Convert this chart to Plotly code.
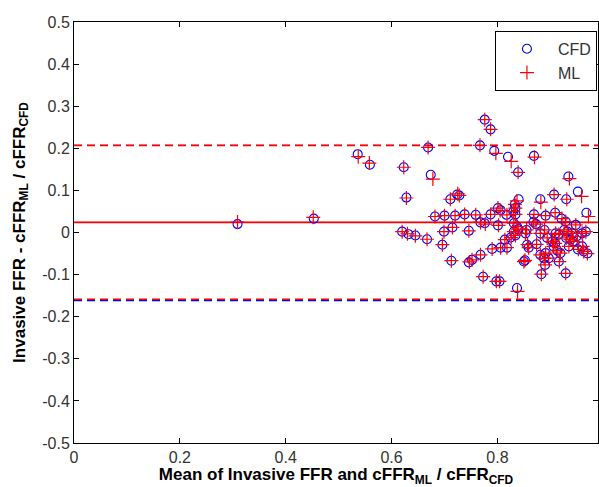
import plotly.graph_objects as go

# ---- data ----
cfd_x = [0.309, 0.453, 0.536, 0.559, 0.623, 0.628, 0.620, 0.632, 0.645, 0.667,
         0.669, 0.674, 0.682, 0.696, 0.699, 0.700, 0.711, 0.724, 0.728, 0.713,
         0.715, 0.720, 0.738, 0.746, 0.746, 0.752, 0.759, 0.768, 0.776, 0.768,
         0.773, 0.776, 0.787, 0.767, 0.794, 0.820, 0.869, 0.839, 0.934, 0.952,
         0.907, 0.930, 0.840, 0.881, 0.833, 0.801, 0.806, 0.834, 0.830, 0.834,
         0.787, 0.817, 0.869, 0.891, 0.909, 0.968, 0.801, 0.831, 0.837, 0.868,
         0.873, 0.921, 0.929, 0.948, 0.798, 0.804, 0.837, 0.790, 0.806, 0.818,
         0.814, 0.825, 0.831, 0.839, 0.834, 0.853, 0.850, 0.852, 0.856, 0.859,
         0.874, 0.881, 0.889, 0.881, 0.891, 0.888, 0.897, 0.890, 0.883, 0.916,
         0.929, 0.904, 0.906, 0.909, 0.894, 0.910, 0.916, 0.926, 0.932, 0.941,
         0.950, 0.960, 0.967, 0.930, 0.938, 0.943, 0.935, 0.960, 0.963, 0.919,
         0.913, 0.855, 0.952, 0.970]
cfd_y = [0.020, 0.033, 0.186, 0.161, 0.155, 0.083, 0.002, -0.004, -0.007, -0.016,
         0.202, 0.137, 0.038, -0.029, 0.002, 0.040, 0.079, 0.090, 0.088, -0.067,
         0.012, 0.040, 0.043, 0.004, -0.071, -0.065, 0.042, 0.024, 0.022, -0.053,
         -0.105, 0.268, 0.245, 0.207, 0.194, 0.180, 0.182, 0.143, 0.133, 0.097,
         0.090, 0.079, 0.079, 0.079, 0.067, 0.058, 0.053, 0.058, 0.050, 0.043,
         0.043, 0.042, 0.043, 0.040, 0.047, 0.047, 0.017, 0.022, 0.014, 0.025,
         0.020, 0.033, 0.026, 0.018, -0.116, -0.116, -0.132, -0.039, -0.036, -0.036,
         -0.017, -0.012, 0.002, 0.008, -0.007, -0.002, -0.069, -0.066, -0.029, -0.036,
         -0.028, -0.002, 0.006, -0.053, -0.049, -0.061, -0.061, -0.077, -0.099, -0.069,
         -0.097, -0.021, -0.033, -0.026, -0.013, -0.002, -0.005, 0.006, 0.002, -0.002,
         -0.009, -0.002, 0.002, -0.013, -0.017, -0.021, -0.033, -0.033, -0.045, -0.049,
         -0.043, 0.006, -0.040, -0.050]

ml_x = [0.309, 0.452, 0.537, 0.558, 0.623, 0.628, 0.620, 0.630, 0.645, 0.667,
        0.669, 0.678, 0.682, 0.696, 0.699, 0.700, 0.711, 0.725, 0.728, 0.713,
        0.715, 0.720, 0.738, 0.746, 0.747, 0.752, 0.759, 0.768, 0.777, 0.768,
        0.773, 0.776, 0.787, 0.767, 0.797, 0.826, 0.870, 0.839, 0.936, 0.959,
        0.907, 0.931, 0.837, 0.882, 0.833, 0.801, 0.805, 0.834, 0.830, 0.834,
        0.787, 0.818, 0.869, 0.891, 0.909, 0.972, 0.802, 0.831, 0.837, 0.868,
        0.873, 0.922, 0.929, 0.948, 0.798, 0.804, 0.838, 0.790, 0.806, 0.818,
        0.814, 0.826, 0.831, 0.839, 0.834, 0.853, 0.850, 0.852, 0.857, 0.859,
        0.874, 0.881, 0.889, 0.881, 0.891, 0.888, 0.897, 0.890, 0.883, 0.917,
        0.929, 0.904, 0.906, 0.909, 0.894, 0.910, 0.916, 0.926, 0.932, 0.941,
        0.951, 0.960, 0.967, 0.930, 0.938, 0.943, 0.935, 0.961, 0.963, 0.919,
        0.913, 0.855, 0.953, 0.970]
ml_y = [0.025, 0.036, 0.180, 0.165, 0.155, 0.082, 0.002, -0.003, -0.008, -0.016,
        0.202, 0.127, 0.038, -0.029, 0.002, 0.040, 0.079, 0.092, 0.088, -0.067,
        0.012, 0.040, 0.043, 0.004, -0.070, -0.065, 0.042, 0.024, 0.020, -0.053,
        -0.105, 0.268, 0.245, 0.207, 0.188, 0.169, 0.179, 0.143, 0.128, 0.086,
        0.090, 0.079, 0.075, 0.072, 0.067, 0.058, 0.052, 0.058, 0.050, 0.043,
        0.043, 0.042, 0.043, 0.040, 0.047, 0.038, 0.017, 0.022, 0.014, 0.025,
        0.020, 0.033, 0.026, 0.018, -0.116, -0.116, -0.140, -0.039, -0.036, -0.036,
        -0.017, -0.012, 0.002, 0.008, -0.007, -0.002, -0.069, -0.066, -0.029, -0.036,
        -0.028, -0.002, 0.006, -0.053, -0.049, -0.061, -0.061, -0.077, -0.099, -0.069,
        -0.097, -0.021, -0.033, -0.026, -0.013, -0.002, -0.005, 0.006, 0.002, -0.002,
        -0.009, -0.002, 0.002, -0.013, -0.017, -0.021, -0.033, -0.033, -0.045, -0.049,
        -0.043, 0.006, -0.040, -0.050]

cfd_mean, cfd_upper, cfd_lower = 0.024, 0.207, -0.1618
ml_mean, ml_upper, ml_lower = 0.024, 0.207, -0.1585
line_x = [0, 1]

x_ticks = [0, 0.2, 0.4, 0.6, 0.8]
x_tick_text = ["0", "0.2", "0.4", "0.6", "0.8"]
y_ticks = [-0.5, -0.4, -0.3, -0.2, -0.1, 0, 0.1, 0.2, 0.3, 0.4, 0.5]
y_tick_text = ["-0.5", "-0.4", "-0.3", "-0.2", "-0.1", "0", "0.1", "0.2", "0.3", "0.4", "0.5"]

BLUE = "#0000ff"
RED = "#ff0000"
DASH = "8px,5px"
FONT = "Liberation Sans, Arial, sans-serif"

fig = go.Figure()

# limit lines (blue under red)
for yv, d, w in [(cfd_mean, "solid", 1), (cfd_upper, DASH, 1), (cfd_lower, DASH, 1.5)]:
    fig.add_trace(go.Scatter(x=line_x, y=[yv, yv], mode="lines",
                             line=dict(color=BLUE, width=w, dash=d),
                             showlegend=False, hoverinfo="skip"))
for yv, d in [(ml_mean, "solid"), (ml_upper, DASH), (ml_lower, DASH)]:
    fig.add_trace(go.Scatter(x=line_x, y=[yv, yv], mode="lines",
                             line=dict(color=RED, width=1.6, dash=d),
                             showlegend=False, hoverinfo="skip"))

fig.add_trace(go.Scatter(x=cfd_x, y=cfd_y, mode="markers", name="CFD",
                         marker=dict(symbol="circle-open", size=9,
                                     color=BLUE, line=dict(width=1.1, color=BLUE))))
fig.add_trace(go.Scatter(x=ml_x, y=ml_y, mode="markers", name="ML",
                         marker=dict(symbol="cross-thin-open", size=10,
                                     color=RED, line=dict(width=1.2, color=RED))))

axis_common = dict(showline=True, linecolor="#000000", linewidth=1,
                   mirror="ticks", ticks="inside", ticklen=5, tickcolor="#000000",
                   showgrid=False, zeroline=False,
                   tickfont=dict(family=FONT, size=16, color="#333333"))

fig.update_layout(
    width=599, height=487,
    margin=dict(l=74, r=1, t=22, b=44, autoexpand=False),
    paper_bgcolor="white", plot_bgcolor="white",
    xaxis=dict(range=[0, 0.99], tickvals=x_ticks, ticktext=x_tick_text,
               title=dict(text="<b>Mean of Invasive FFR and cFFR<sub>ML</sub> / cFFR<sub>CFD</sub></b>",
                          font=dict(family=FONT, size=17, color="#000"),
                          standoff=0),
               automargin=False,
               **axis_common),
    yaxis=dict(range=[-0.5, 0.5], tickvals=y_ticks, ticktext=y_tick_text,
               title=dict(text="<b>Invasive FFR - cFFR<sub>ML</sub> / cFFR<sub>CFD</sub></b>",
                          font=dict(family=FONT, size=17, color="#000"),
                          standoff=12),
               automargin=False,
               **axis_common),
    legend=dict(x=0.998, xanchor="right", y=0.979, yanchor="top",
                bgcolor="white", bordercolor="#000000", borderwidth=1,
                itemwidth=52,
                font=dict(family=FONT, size=16, color="#333333")),
    showlegend=True,
)

fig.write_html("out.html", config={"displayModeBar": False},
               post_script="document.body.style.margin='0';document.body.style.overflow='hidden';")
